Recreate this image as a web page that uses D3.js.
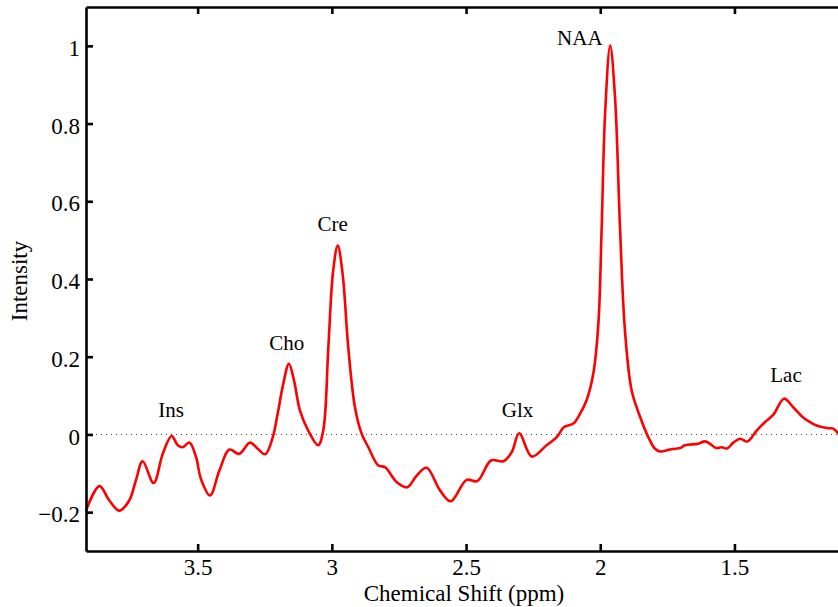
<!DOCTYPE html>
<html>
<head>
<meta charset="utf-8">
<script src="https://cdn.jsdelivr.net/npm/d3@7/dist/d3.min.js"></script>
<style>
  html, body { margin: 0; padding: 0; background: #fff; }
  svg { display: block; }
  text { font-family: "Liberation Serif", "Times New Roman", serif; fill: #000; }
</style>
</head>
<body>
<svg id="chart" width="838" height="607"></svg>
<script>
// ---- data ----
const ppm = [3.916, 3.866, 3.829, 3.792, 3.755, 3.730, 3.705, 3.664, 3.630, 3.597,
  3.574, 3.556, 3.531, 3.506, 3.488, 3.454, 3.419, 3.382, 3.345, 3.305,
  3.276, 3.248, 3.220, 3.202, 3.181, 3.160, 3.141, 3.119, 3.088, 3.051,
  3.032, 3.013, 2.995, 2.978, 2.960, 2.939, 2.914, 2.889, 2.864, 2.827,
  2.802, 2.758, 2.719, 2.684, 2.647, 2.597, 2.557, 2.498, 2.458, 2.407,
  2.361, 2.330, 2.302, 2.255, 2.200, 2.162, 2.135, 2.100, 2.082, 2.051,
  2.026, 2.007, 1.995, 1.982, 1.963, 1.945, 1.926, 1.908, 1.883, 1.852,
  1.821, 1.796, 1.777, 1.740, 1.703, 1.684, 1.635, 1.610, 1.591, 1.569,
  1.548, 1.527, 1.504, 1.479, 1.452, 1.417, 1.386, 1.355, 1.315, 1.281,
  1.243, 1.219, 1.194, 1.150, 1.132, 1.113, 1.095];
const intensity = [-0.196, -0.133, -0.170, -0.196, -0.170, -0.118, -0.069, -0.125, -0.050, -0.004,
  -0.028, -0.033, -0.021, -0.058, -0.114, -0.157, -0.093, -0.039, -0.050, -0.021,
  -0.037, -0.051, -0.007, 0.053, 0.130, 0.182, 0.139, 0.062, 0.010, -0.028,
  0.010, 0.225, 0.422, 0.486, 0.414, 0.225, 0.070, 0.002, -0.033, -0.080,
  -0.084, -0.123, -0.136, -0.106, -0.086, -0.144, -0.172, -0.117, -0.120, -0.067,
  -0.069, -0.046, 0.003, -0.057, -0.028, -0.007, 0.019, 0.028, 0.045, 0.088,
  0.156, 0.285, 0.525, 0.825, 1.001, 0.868, 0.525, 0.268, 0.113, 0.046,
  -0.007, -0.037, -0.044, -0.039, -0.035, -0.028, -0.024, -0.018, -0.024, -0.035,
  -0.033, -0.036, -0.021, -0.011, -0.018, 0.010, 0.032, 0.051, 0.092, 0.070,
  0.043, 0.032, 0.023, 0.016, 0.015, 0.003, -0.004];

const xTicks = [3.5, 3, 2.5, 2, 1.5];
const xTickLabels = ["3.5", "3", "2.5", "2", "1.5"];
const yTicks = [-0.2, 0, 0.2, 0.4, 0.6, 0.8, 1];
const yTickLabels = ["\u22120.2", "0", "0.2", "0.4", "0.6", "0.8", "1"];

const peakNames = ["Ins", "Cho", "Cre", "Glx", "NAA", "Lac"];
const peakPpm = [3.599, 3.168, 2.997, 2.308, 2.076, 1.308];
const peakLabelY = [0.045, 0.216, 0.523, 0.044, 1.001, 0.136];

(function () {
  const svg = d3.select("#chart");
  const plotLeft = 86, plotTop = 7, plotBottom = 551;
  const x = d3.scaleLinear().domain([3.916, 1.0]).range([plotLeft, plotLeft + 2.916 * 268.4]);
  const y = d3.scaleLinear().domain([-0.3, 1.1]).range([plotBottom, plotTop]);
  const plotRight = x.range()[1];
  const tickLen = 7;
  const fontSize = 23;
  const axisW = 2.6;

  // zero dotted line
  svg.append("line")
    .attr("x1", plotLeft).attr("x2", plotRight)
    .attr("y1", y(0)).attr("y2", y(0))
    .attr("stroke", "#444").attr("stroke-width", 1)
    .attr("stroke-dasharray", "1,4");

  // spectrum
  const pts = ppm.map((p, i) => [p, intensity[i]]);
  svg.append("path")
    .datum(pts)
    .attr("fill", "none")
    .attr("stroke", "#ff0000")
    .attr("stroke-width", 2.6)
    .attr("stroke-linejoin", "round")
    .attr("d", d3.line().x(d => x(d[0])).y(d => y(d[1])).curve(d3.curveCatmullRom.alpha(0.5)));

  const axisG = svg.append("g");
  // bottom axis
  const gx = axisG.append("g").attr("transform", `translate(0,${plotBottom})`)
    .call(d3.axisBottom(x).tickValues(xTicks)
      .tickFormat((d, i) => xTickLabels[i])
      .tickSizeInner(-tickLen).tickSizeOuter(0).tickPadding(0));
  gx.select(".domain").attr("stroke-width", axisW).attr("stroke", "#000");
  gx.selectAll(".tick line").attr("stroke-width", axisW).attr("stroke", "#000");
  gx.selectAll(".tick text").attr("y", 24).attr("dy", null)
    .style("font-family", "Liberation Serif").style("font-size", fontSize + "px");

  // top axis
  const gxt = axisG.append("g").attr("transform", `translate(0,${plotTop})`)
    .call(d3.axisTop(x).tickValues(xTicks).tickFormat("")
      .tickSizeInner(-tickLen).tickSizeOuter(0));
  gxt.select(".domain").attr("stroke-width", axisW).attr("stroke", "#000");
  gxt.selectAll(".tick line").attr("stroke-width", axisW).attr("stroke", "#000");

  // left axis
  const gy = axisG.append("g").attr("transform", `translate(${plotLeft},0)`)
    .call(d3.axisLeft(y).tickValues(yTicks)
      .tickFormat((d, i) => yTickLabels[i])
      .tickSizeInner(-tickLen).tickSizeOuter(0).tickPadding(0));
  gy.select(".domain").attr("stroke-width", axisW).attr("stroke", "#000");
  gy.selectAll(".tick line").attr("stroke-width", axisW).attr("stroke", "#000");
  gy.selectAll(".tick text").attr("x", -6).attr("dy", "0.42em")
    .style("font-family", "Liberation Serif").style("font-size", fontSize + "px");

  // axis labels
  svg.append("text")
    .attr("x", 464).attr("y", 601)
    .attr("text-anchor", "middle")
    .style("font-size", "23px")
    .text("Chemical Shift (ppm)");
  svg.append("text")
    .attr("transform", "translate(27,281) rotate(-90)")
    .attr("text-anchor", "middle")
    .style("font-size", "23px")
    .text("Intensity");

  // peak labels
  svg.append("g").selectAll("text")
    .data(peakNames)
    .join("text")
    .attr("x", (d, i) => x(peakPpm[i]))
    .attr("y", (d, i) => y(peakLabelY[i]))
    .attr("text-anchor", "middle")
    .style("font-size", "21px")
    .text(d => d);
})();
</script>
</body>
</html>
